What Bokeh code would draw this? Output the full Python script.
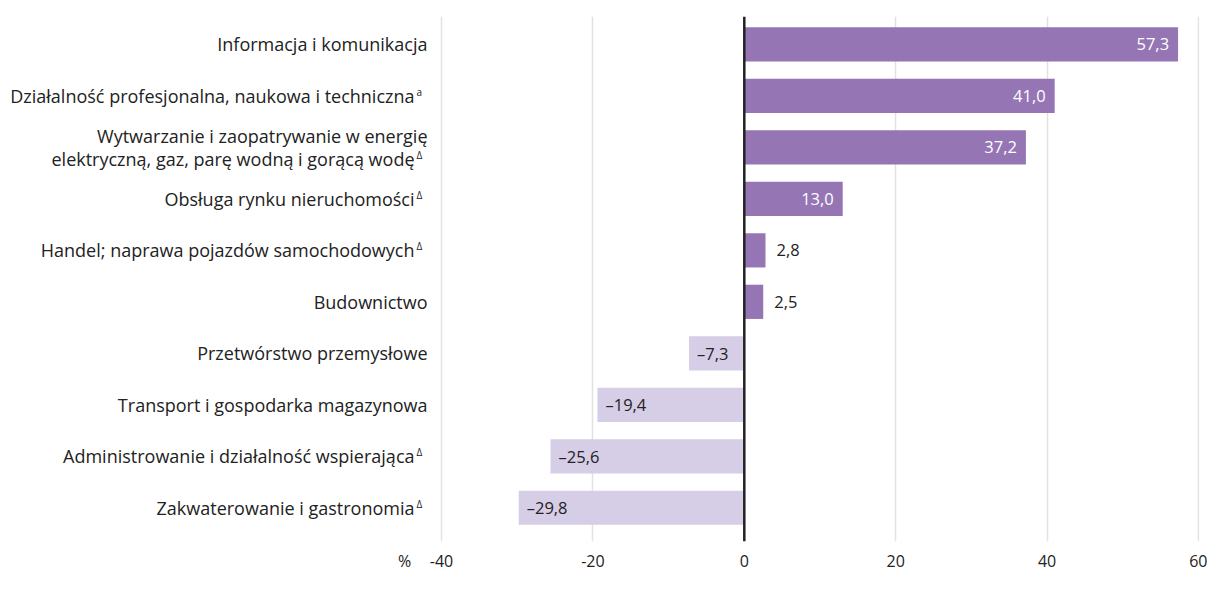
from bokeh.plotting import figure
from bokeh.models import Range1d, FixedTicker, Span, ColumnDataSource
from bokeh.core.properties import value
from bokeh.embed import file_html
from bokeh.resources import INLINE

# ---- data ----
categories = [
    "Informacja i komunikacja",
    "Działalność profesjonalna, naukowa i techniczna",
    "Wytwarzanie i zaopatrywanie w energię\nelektryczną, gaz, parę wodną i gorącą wodę",
    "Obsługa rynku nieruchomości",
    "Handel; naprawa pojazdów samochodowych",
    "Budownictwo",
    "Przetwórstwo przemysłowe",
    "Transport i gospodarka magazynowa",
    "Administrowanie i działalność wspierająca",
    "Zakwaterowanie i gastronomia",
]
notes = ["", "a", "Δ", "Δ", "Δ", "", "", "", "Δ", "Δ"]
values = [57.3, 41.0, 37.2, 13.0, 2.8, 2.5, -7.3, -19.4, -25.6, -29.8]
x_ticks = [-40, -20, 0, 20, 40, 60]
x_tick_labels = ["-40", "-20", "0", "20", "40", "60"]
unit_label = "%"

POS = "#9575b4"
NEG = "#d6cde6"
DARK = "#222222"
FONT = "Open Sans"

W, H = 1207, 574
BORDER_R = 8
PX_PER_UNIT = 7.57
LEFT_PX = 441          # screen position of first tick
X_START = x_ticks[0] - LEFT_PX / PX_PER_UNIT
X_END = X_START + (W - BORDER_R) / PX_PER_UNIT
ROW0_PX, ROW_STEP = 44.5, 52.56
TOP_PX, BOTTOM_PX = 16, 552
Y_TOP = (TOP_PX - ROW0_PX) / ROW_STEP
Y_BOTTOM = (BOTTOM_PX - ROW0_PX) / ROW_STEP
unit_pos = x_ticks[0] - 37 / PX_PER_UNIT

rows = list(range(len(categories)))

p = figure(width=W, height=H,
           x_range=Range1d(X_START, X_END), y_range=Range1d(Y_BOTTOM, Y_TOP),
           output_backend="svg", toolbar_location=None, y_axis_location=None,
           min_border_left=0, min_border_right=BORDER_R, min_border_top=TOP_PX,
           min_border_bottom=H - BOTTOM_PX)
p.outline_line_color = None
p.background_fill_color = "white"
p.border_fill_color = "white"

# grid
p.xgrid.ticker = FixedTicker(ticks=[t for t in x_ticks if t != 0])
p.xgrid.grid_line_color = "#e2e2e2"
p.xgrid.grid_line_width = 1.5
p.ygrid.grid_line_color = None

# x axis (unit label sits on the axis as an extra tick label)
ax = p.xaxis[0]
ax.ticker = FixedTicker(ticks=[unit_pos] + x_ticks)
overrides = {t: lab for t, lab in zip(x_ticks, x_tick_labels)}
overrides[unit_pos] = unit_label
ax.major_label_overrides = overrides
ax.axis_line_color = None
ax.major_tick_line_color = None
ax.minor_tick_line_color = None
ax.major_label_standoff = 2
ax.major_label_text_font = FONT
ax.major_label_text_font_size = "16px"
ax.major_label_text_color = DARK

# bars
pos_rows = [r for r in rows if values[r] >= 0]
neg_rows = [r for r in rows if values[r] < 0]
p.hbar(y=pos_rows, left=0, right=[values[r] for r in pos_rows], height=0.665,
       fill_color=POS, line_color=None)
p.hbar(y=neg_rows, left=[values[r] for r in neg_rows], right=0, height=0.665,
       fill_color=NEG, line_color=None)

# zero line
p.add_layout(Span(location=0, dimension="height", line_color=DARK, line_width=2.5))

def fmt(v):
    s = f"{abs(v):.1f}".replace(".", ",")
    return ("\u2013" + s) if v < 0 else s

# value labels
inside = [r for r in rows if values[r] >= 10]
outside = [r for r in rows if 0 <= values[r] < 10]
p.text(x=[values[r] for r in inside], y=inside, text=[fmt(values[r]) for r in inside],
       x_offset=-9, text_align="right", text_baseline="middle",
       text_color="white", text_font=value(FONT), text_font_size="16.5px")
p.text(x=[values[r] for r in outside], y=outside, text=[fmt(values[r]) for r in outside],
       x_offset=11, text_align="left", text_baseline="middle",
       text_color=DARK, text_font=value(FONT), text_font_size="16.5px")
p.text(x=[values[r] for r in neg_rows], y=neg_rows, text=[fmt(values[r]) for r in neg_rows],
       x_offset=8, text_align="left", text_baseline="middle",
       text_color=DARK, text_font=value(FONT), text_font_size="16.5px")

# category labels
lx, ly, lt, lxo, lyo = [], [], [], [], []
sx, sy, st, sxo, syo = [], [], [], [], []
LINE_H = 23
for r in rows:
    lines = categories[r].split("\n")
    n = len(lines)
    for j, line in enumerate(lines):
        yo = (j - (n - 1) / 2) * LINE_H
        last = j == n - 1
        has_note = last and notes[r] != ""
        lx.append(x_ticks[0]); ly.append(r); lt.append(line)
        lxo.append(-27 if has_note else -14); lyo.append(yo)
        if has_note:
            sx.append(x_ticks[0]); sy.append(r); st.append(notes[r])
            sxo.append(-25); syo.append(yo - 4)

p.text(x="x", y="y", text="t", x_offset="xo", y_offset="yo",
       source=ColumnDataSource(dict(x=lx, y=ly, t=lt, xo=lxo, yo=lyo)),
       text_align="right", text_baseline="middle", text_color=DARK,
       text_font=value(FONT), text_font_size="18px")
p.text(x="x", y="y", text="t", x_offset="xo", y_offset="yo",
       source=ColumnDataSource(dict(x=sx, y=sy, t=st, xo=sxo, yo=syo)),
       text_align="left", text_baseline="middle", text_color=DARK,
       text_font=value(FONT), text_font_size="10px")

open("out.html", "w").write(file_html(p, INLINE))
